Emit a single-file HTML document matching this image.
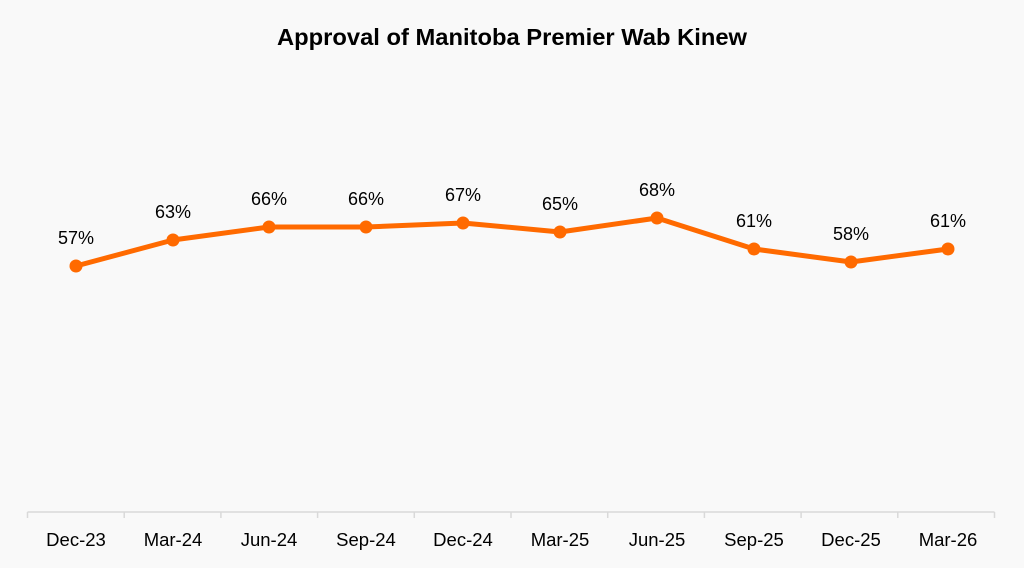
<!DOCTYPE html>
<html><head><meta charset="utf-8"><style>
body{margin:0;background:#f9f9f9;}
svg{display:block;font-family:"Liberation Sans",Carlito,sans-serif;}
</style></head><body>
<svg width="1024" height="568" xmlns="http://www.w3.org/2000/svg">
<rect width="1024" height="568" fill="#f9f9f9"/>
<text x="512" y="45" text-anchor="middle" font-size="23" font-weight="bold" fill="#000" textLength="470" lengthAdjust="spacingAndGlyphs">Approval of Manitoba Premier Wab Kinew</text>
<g stroke="#d9d9d9" stroke-width="1.5">
<line x1="27.5" y1="512" x2="994.5" y2="512"/>
<line x1="27.5" y1="512" x2="27.5" y2="518"/>
<line x1="124.2" y1="512" x2="124.2" y2="518"/>
<line x1="220.9" y1="512" x2="220.9" y2="518"/>
<line x1="317.6" y1="512" x2="317.6" y2="518"/>
<line x1="414.3" y1="512" x2="414.3" y2="518"/>
<line x1="511" y1="512" x2="511" y2="518"/>
<line x1="607.7" y1="512" x2="607.7" y2="518"/>
<line x1="704.4" y1="512" x2="704.4" y2="518"/>
<line x1="801.1" y1="512" x2="801.1" y2="518"/>
<line x1="897.8" y1="512" x2="897.8" y2="518"/>
<line x1="994.5" y1="512" x2="994.5" y2="518"/>
</g>
<g font-size="18.5" fill="#000" text-anchor="middle">
<text x="76" y="546">Dec-23</text><text x="173" y="546">Mar-24</text><text x="269" y="546">Jun-24</text><text x="366" y="546">Sep-24</text><text x="463" y="546">Dec-24</text><text x="560" y="546">Mar-25</text><text x="657" y="546">Jun-25</text><text x="754" y="546">Sep-25</text><text x="851" y="546">Dec-25</text><text x="948" y="546">Mar-26</text>
</g>
<polyline fill="none" stroke="#ff6a00" stroke-width="5" stroke-linejoin="round" points="76,266 173,240 269,227 366,227 463,223 560,232 657,218 754,249 851,262 948,249"/>
<g fill="#ff6a00">
<circle cx="76" cy="266" r="6.5"/><circle cx="173" cy="240" r="6.5"/><circle cx="269" cy="227" r="6.5"/><circle cx="366" cy="227" r="6.5"/><circle cx="463" cy="223" r="6.5"/><circle cx="560" cy="232" r="6.5"/><circle cx="657" cy="218" r="6.5"/><circle cx="754" cy="249" r="6.5"/><circle cx="851" cy="262" r="6.5"/><circle cx="948" cy="249" r="6.5"/>
</g>
<g font-size="18" fill="#000" text-anchor="middle">
<text x="76" y="244">57%</text><text x="173" y="218">63%</text><text x="269" y="205">66%</text><text x="366" y="205">66%</text><text x="463" y="201">67%</text><text x="560" y="210">65%</text><text x="657" y="196">68%</text><text x="754" y="227">61%</text><text x="851" y="240">58%</text><text x="948" y="227">61%</text>
</g>
</svg>
</body></html>
